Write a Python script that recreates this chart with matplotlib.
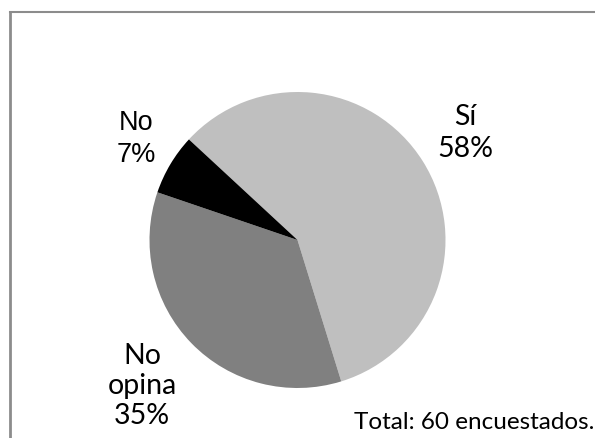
import matplotlib.pyplot as plt

categories = ['Sí', 'No opina', 'No']
counts = [35, 21, 4]
colors = ['#BFBFBF', '#808080', '#000000']

total = sum(counts)
pcts = [round(c / total * 100) for c in counts]

W, H = 595, 439
fig = plt.figure(figsize=(W / 100, H / 100), dpi=100)
ax = fig.add_axes([0, 0, 1, 1])

ax.pie(counts, colors=colors, startangle=137.2, counterclock=False,
       center=(297.5, H - 241), radius=148, wedgeprops=dict(linewidth=0))
ax.set_xlim(0, W)
ax.set_ylim(0, H)
ax.set_aspect('equal')
ax.axis('off')

# labels
ax.text(465, H - 133, f'{categories[0]}\n{pcts[0]}%', ha='center', va='center',
        fontsize=20.5, family='Lato', linespacing=1.25)
ax.text(142, H - 386, 'No\nopina\n' + f'{pcts[1]}%', ha='center', va='center',
        fontsize=20.5, family='Lato', linespacing=1.2)
ax.text(136, H - 139, f'{categories[2]}\n{pcts[2]}%', ha='center', va='center',
        fontsize=19.5, family='Liberation Sans', linespacing=1.3)

ax.text(594, H - 423, f'Total: {total} encuestados.', ha='right', va='center',
        fontsize=17.5, family='Lato')

# chart frame (only top and left edges visible)
ax.plot([10, W], [H - 13, H - 13], color='#8C8C8C', lw=1.5, clip_on=False)
ax.plot([10, 10], [H - 13, 0], color='#8C8C8C', lw=2, clip_on=False)

plt.savefig('out.png', dpi=100)
